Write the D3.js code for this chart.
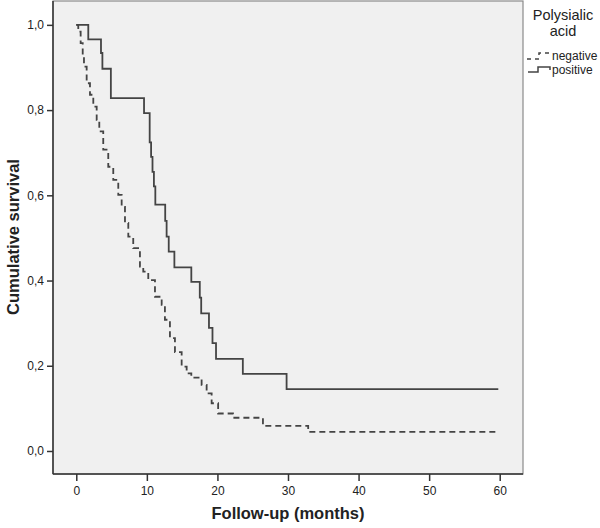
<!DOCTYPE html>
<html>
<head>
<meta charset="utf-8">
<script src="https://cdn.jsdelivr.net/npm/d3@7"></script>
<style>
  body { margin: 0; background: #fff; }
  svg text { font-family: "Liberation Sans", Arial, sans-serif; fill: #222; }
</style>
</head>
<body>
<svg></svg>
<script>
// Kaplan-Meier curves (months, cumulative survival)
const posTime = [0, 1.7, 3.5, 3.7, 4.9, 9.6, 10.4, 10.6, 10.8, 11.0, 11.2, 12.6, 12.8, 13.1, 13.9, 16.3, 17.5, 17.7, 18.8, 19.3, 19.8, 23.6, 29.8, 59.8];
const posSurv = [1.0, 0.966, 0.934, 0.897, 0.828, 0.793, 0.724, 0.690, 0.655, 0.621, 0.578, 0.540, 0.503, 0.468, 0.431, 0.397, 0.360, 0.323, 0.289, 0.253, 0.216, 0.181, 0.145, 0.145];

const negTime = [0, 0.28, 0.62, 0.91, 1.09, 1.47, 1.94, 2.41, 2.89, 3.26, 3.82, 4.53, 5.24, 5.95, 6.43, 6.90, 7.37, 8.07, 9.02, 9.49, 10.2, 11.15, 12.1, 12.56, 13.27, 13.98, 14.93, 15.64, 16.3, 17.76, 18.47, 19.18, 20.1, 22.2, 26.45, 32.86, 59.6];
const negSurv = [1.0, 0.984, 0.957, 0.930, 0.902, 0.863, 0.836, 0.808, 0.777, 0.750, 0.707, 0.667, 0.636, 0.601, 0.573, 0.535, 0.503, 0.476, 0.433, 0.421, 0.401, 0.362, 0.343, 0.308, 0.265, 0.232, 0.198, 0.182, 0.172, 0.155, 0.135, 0.112, 0.088, 0.078, 0.059, 0.045, 0.045];

const xTicks = [0, 10, 20, 30, 40, 50, 60];
const yTicks = [0, 0.2, 0.4, 0.6, 0.8, 1.0];
const legendTitle = ["Polysialic", "acid"];
const groups = ["negative", "positive"];

const w = 600;
const h = 528;
const svg = d3.select("svg").attr("width", w).attr("height", h);

// plot frame
const pLeft = 53, pRight = 523, pTop = 1, pBottom = 474;

const xScale = d3.scaleLinear().domain([-3.3, 63.3]).range([pLeft, pRight]);
const yScale = d3.scaleLinear().domain([-0.054, 1.056]).range([pBottom, pTop]);

svg.append("rect")
  .attr("x", pLeft).attr("y", pTop)
  .attr("width", pRight - pLeft).attr("height", pBottom - pTop)
  .attr("fill", "#f0f0f0")
  .attr("stroke", "#8a8a8a")
  .attr("stroke-width", 1.2);

// axes
const fmt = d3.format(".1f");
const xAxis = d3.axisBottom(xScale).tickValues(xTicks).tickSize(7).tickPadding(5);
const yAxis = d3.axisLeft(yScale).tickValues(yTicks).tickSize(6).tickPadding(3)
  .tickFormat(d => fmt(d).replace(".", ","));

const gx = svg.append("g")
  .attr("transform", "translate(0," + pBottom + ")")
  .call(xAxis);
const gy = svg.append("g")
  .attr("transform", "translate(" + pLeft + ",0)")
  .call(yAxis);

[gx, gy].forEach(g => {
  g.select(".domain").attr("stroke", "#333").attr("stroke-width", 1.5);
  g.selectAll(".tick line").attr("stroke", "#333").attr("stroke-width", 1.5);
  g.selectAll(".tick text").attr("font-size", 12).attr("fill", "#222")
    .style("font-family", '"Liberation Sans", Arial, sans-serif');
});
gx.select(".domain").attr("d", "M" + pLeft + ",0H" + pRight);
gy.select(".domain").attr("d", "M0," + pTop + "V" + pBottom);

// axis titles
svg.append("text")
  .attr("x", 288).attr("y", 519)
  .attr("text-anchor", "middle")
  .attr("font-size", 16.5).attr("font-weight", "bold")
  .text("Follow-up (months)");

svg.append("text")
  .attr("transform", "translate(19,237) rotate(-90)")
  .attr("text-anchor", "middle")
  .attr("font-size", 16.5).attr("font-weight", "bold")
  .text("Cumulative survival");

// survival curves
const line = d3.line()
  .x(d => xScale(d[0]))
  .y(d => yScale(d[1]))
  .curve(d3.curveStepAfter);

const negData = negTime.map((t, i) => [t, negSurv[i]]);
const posData = posTime.map((t, i) => [t, posSurv[i]]);

svg.append("path")
  .datum(negData)
  .attr("d", line)
  .attr("fill", "none")
  .attr("stroke", "#444")
  .attr("stroke-width", 1.8)
  .attr("stroke-dasharray", "6,4");

svg.append("path")
  .datum(posData)
  .attr("d", line)
  .attr("fill", "none")
  .attr("stroke", "#444")
  .attr("stroke-width", 1.8);

// legend
const lg = svg.append("g");
legendTitle.forEach((t, i) => {
  lg.append("text")
    .attr("x", 563).attr("y", 20 + i * 16)
    .attr("text-anchor", "middle")
    .attr("font-size", 14.5)
    .text(t);
});

lg.append("path")
  .attr("d", "M527,59H539V53H550")
  .attr("fill", "none").attr("stroke", "#444").attr("stroke-width", 1.5)
  .attr("stroke-dasharray", "4,4");
lg.append("path")
  .attr("d", "M528,72H538V67H550V70")
  .attr("fill", "none").attr("stroke", "#444").attr("stroke-width", 1.5);

groups.forEach((g, i) => {
  lg.append("text")
    .attr("x", 552).attr("y", 60 + i * 14)
    .attr("font-size", 12)
    .text(g);
});
</script>
</body>
</html>
